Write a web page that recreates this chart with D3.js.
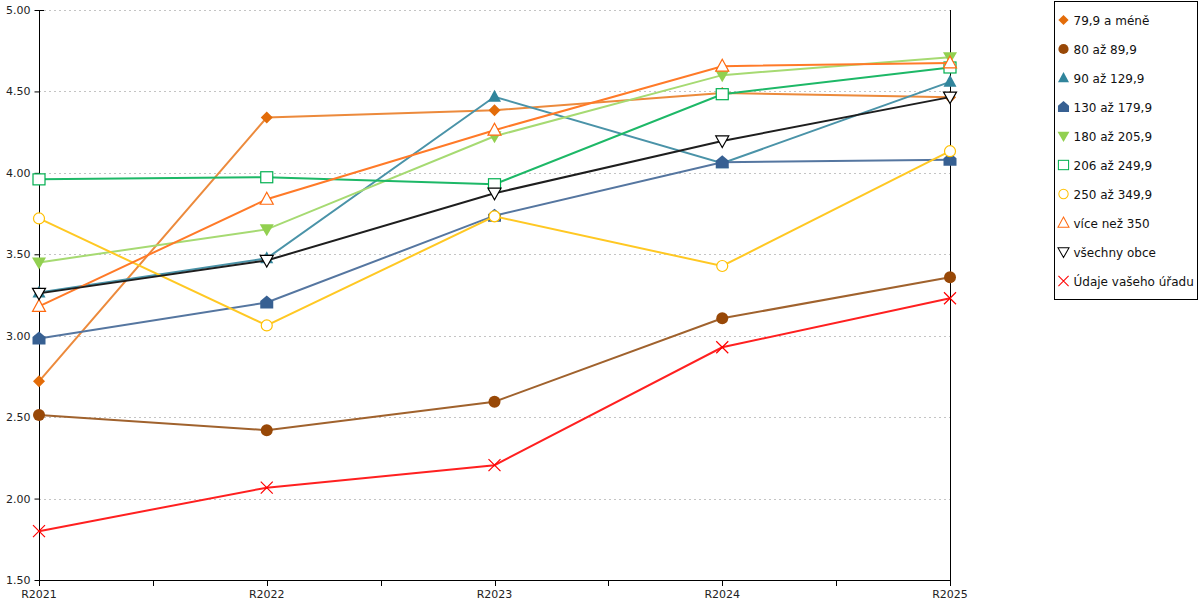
<!DOCTYPE html>
<html>
<head>
<meta charset="utf-8">
<script src="https://cdn.jsdelivr.net/npm/d3@7"></script>
<style>
  body { margin: 0; background: #fff; }
  svg { font-family: "DejaVu Sans", Verdana, sans-serif; }
</style>
</head>
<body>
<div id="chart"></div>
<script>
// categories (x axis)
const years = ["R2021", "R2022", "R2023", "R2024", "R2025"];

// y axis ticks
const yTicks = [1.5, 2.0, 2.5, 3.0, 3.5, 4.0, 4.5, 5.0];

// series names (legend order)
const seriesNames = [
  "79,9 a méně",
  "80 až 89,9",
  "90 až 129,9",
  "130 až 179,9",
  "180 až 205,9",
  "206 až 249,9",
  "250 až 349,9",
  "více než 350",
  "všechny obce",
  "Údaje vašeho úřadu"
];

// series values
const v799 = [2.72, 4.34, 4.385, 4.49, 4.465];
const v80 = [2.513, 2.42, 2.595, 3.107, 3.359];
const v90 = [3.266, 3.475, 4.467, 4.059, 4.559];
const v130 = [2.983, 3.204, 3.737, 4.065, 4.08];
const v180 = [3.45, 3.653, 4.225, 4.6, 4.71];
const v206 = [3.96, 3.973, 3.93, 4.483, 4.647];
const v250 = [3.72, 3.063, 3.733, 3.428, 4.133];
const v350 = [3.18, 3.838, 4.262, 4.655, 4.675];
const vAll = [3.26, 3.462, 3.875, 4.196, 4.465];
const vOffice = [1.80, 2.067, 2.205, 2.929, 3.23];

const seriesValues = [v799, v80, v90, v130, v180, v206, v250, v350, vAll, vOffice];

// styles
const markerColors = ["#E36C09", "#984807", "#31859C", "#376092", "#92D050",
  "#00B050", "#FFC000", "#FF6A10", "#000000", "#FF0000"];
const lineColors = ["#EC8A3C", "#A0622D", "#4A93A8", "#5576A0", "#A6DA72",
  "#1DB867", "#FFC823", "#FF7A28", "#1E1E1E", "#FF2020"];
const markerTypes = ["diamond", "circle", "triUp", "house", "triDown",
  "square", "circleOpen", "triUpOpen", "triDownOpen", "cross"];

const width = 1200, height = 600;
const plot = { left: 39, right: 950, top: 10, bottom: 580 };

const svg = d3.select("#chart").append("svg")
  .attr("width", width)
  .attr("height", height);

const x = d3.scalePoint().domain(years).range([plot.left, plot.right]);
const y = d3.scaleLinear().domain([1.5, 5]).range([plot.bottom, plot.top]);

// gridlines
svg.append("g")
  .selectAll("line")
  .data(yTicks.filter(d => d > 1.5))
  .join("line")
  .attr("x1", plot.left)
  .attr("x2", plot.right)
  .attr("y1", d => Math.round(y(d)) + 0.5)
  .attr("y2", d => Math.round(y(d)) + 0.5)
  .attr("stroke", "#c4c4c4")
  .attr("stroke-dasharray", "2,3");

// right border line
svg.append("line")
  .attr("x1", plot.right + 0.5).attr("x2", plot.right + 0.5)
  .attr("y1", plot.top).attr("y2", plot.bottom + 6)
  .attr("stroke", "#000");

// y axis
const yAxis = svg.append("g")
  .attr("transform", `translate(${plot.left + 0.5},0)`)
  .call(d3.axisLeft(y).tickValues(yTicks).tickFormat(d3.format(".2f")).tickSize(5).tickPadding(4));
yAxis.select(".domain").attr("d", `M0,${plot.top}V${plot.bottom}`);
yAxis.selectAll("text").attr("font-size", 11).attr("fill", "#222")
  .attr("font-family", "DejaVu Sans, Verdana, sans-serif");
// top tick crosses the axis
svg.append("line")
  .attr("x1", plot.left).attr("x2", plot.left + 5)
  .attr("y1", y(5) + 0.5).attr("y2", y(5) + 0.5)
  .attr("stroke", "#000");

// x axis with ticks between categories
const step = x.step();
const halfTicks = d3.range(0, years.length * 2 - 1).map(i => plot.left + i * step / 2);
svg.append("line")
  .attr("x1", plot.left).attr("x2", plot.right + 1)
  .attr("y1", plot.bottom + 0.5).attr("y2", plot.bottom + 0.5)
  .attr("stroke", "#000");
svg.append("g")
  .selectAll("line")
  .data(halfTicks)
  .join("line")
  .attr("x1", d => Math.round(d) + 0.5)
  .attr("x2", d => Math.round(d) + 0.5)
  .attr("y1", plot.bottom)
  .attr("y2", plot.bottom + 6)
  .attr("stroke", "#000");
svg.append("g")
  .selectAll("text")
  .data(years)
  .join("text")
  .attr("x", d => x(d))
  .attr("y", plot.bottom + 18)
  .attr("text-anchor", "middle")
  .attr("font-size", 11)
  .attr("fill", "#222")
  .text(d => d);

// marker drawing
function drawMarker(g, type, color) {
  switch (type) {
    case "diamond":
      g.append("path").attr("d", "M0,-6L6,0L0,6L-6,0Z").attr("fill", color);
      break;
    case "circle":
      g.append("circle").attr("r", 6).attr("fill", color);
      break;
    case "triUp":
      g.append("path").attr("d", "M0,-7L6.5,5L-6.5,5Z").attr("fill", color);
      break;
    case "house":
      g.append("path").attr("d", "M0,-7L6.5,-1.5L6.5,6L-6.5,6L-6.5,-1.5Z").attr("fill", color);
      break;
    case "triDown":
      g.append("path").attr("d", "M-7,-5L7,-5L0,7Z").attr("fill", color);
      break;
    case "square":
      g.append("rect").attr("x", -6).attr("y", -5.5).attr("width", 12).attr("height", 11)
        .attr("fill", "#fff").attr("stroke", color).attr("stroke-width", 1.2);
      break;
    case "circleOpen":
      g.append("circle").attr("r", 5.5).attr("fill", "#fff").attr("stroke", color).attr("stroke-width", 1.2);
      break;
    case "triUpOpen":
      g.append("path").attr("d", "M0,-7L6.5,5L-6.5,5Z").attr("fill", "#fff")
        .attr("stroke", color).attr("stroke-width", 1.2);
      break;
    case "triDownOpen":
      g.append("path").attr("d", "M-6.5,-5L6.5,-5L0,6.5Z").attr("fill", "#fff")
        .attr("stroke", color).attr("stroke-width", 1.2);
      break;
    case "cross":
      g.append("path").attr("d", "M-6,-6L6,6M-6,6L6,-6").attr("fill", "none")
        .attr("stroke", color).attr("stroke-width", 1.2);
      break;
  }
}

// lines
const line = d3.line()
  .x((d, i) => x(years[i]))
  .y(d => y(d));

seriesValues.forEach((vals, si) => {
  const g = svg.append("g").attr("class", "series");
  g.append("path")
    .datum(vals)
    .attr("d", line)
    .attr("fill", "none")
    .attr("stroke", lineColors[si])
    .attr("stroke-width", 2);
  g.selectAll("g.pt")
    .data(vals)
    .join("g")
    .attr("class", "pt")
    .attr("transform", (d, i) => `translate(${x(years[i])},${y(d)})`)
    .each(function () {
      drawMarker(d3.select(this), markerTypes[si], markerColors[si]);
    });
});

// legend
const legend = svg.append("g").attr("transform", "translate(1054.5,1.5)");
legend.append("rect")
  .attr("width", 143)
  .attr("height", 298)
  .attr("fill", "#fff")
  .attr("stroke", "#000");
const items = legend.selectAll("g.item")
  .data(seriesNames)
  .join("g")
  .attr("class", "item")
  .attr("transform", (d, i) => `translate(0,${18.5 + i * 29})`);
items.each(function (d, i) {
  const m = d3.select(this).append("g").attr("transform", "translate(9,0) scale(0.85)");
  drawMarker(m, markerTypes[i], markerColors[i]);
});
items.append("text")
  .attr("x", 19)
  .attr("y", 4.5)
  .attr("font-size", 12)
  .attr("fill", "#111")
  .text(d => d);
</script>
</body>
</html>
